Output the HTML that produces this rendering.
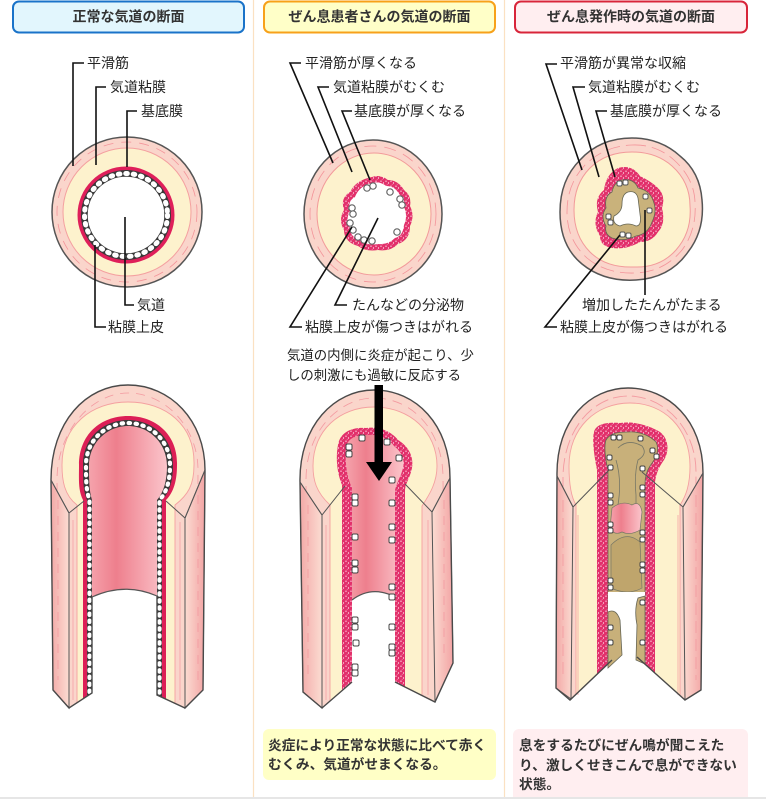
<!DOCTYPE html>
<html><head><meta charset="utf-8">
<style>
html,body{margin:0;padding:0;background:#fff;}
body{width:766px;height:799px;overflow:hidden;position:relative;}
svg{position:absolute;left:0;top:0;}
</style></head><body>
<svg width="766" height="799" viewBox="0 0 766 799" xmlns="http://www.w3.org/2000/svg" style='font-family:"Liberation Sans","Noto Sans CJK JP",sans-serif'>
<defs>
<pattern id="sp" width="5" height="5" patternUnits="userSpaceOnUse">
<rect width="5" height="5" fill="#e2306b"/>
<circle cx="1" cy="1.2" r="0.7" fill="#fbd0dc"/>
<circle cx="3.5" cy="3" r="0.6" fill="#fff"/>
<circle cx="2.2" cy="4.3" r="0.45" fill="#f8a8c0"/>
</pattern>
<linearGradient id="lum" x1="0" y1="0" x2="1" y2="0">
<stop offset="0" stop-color="#f5a3ac"/><stop offset="0.35" stop-color="#ee7f8d"/><stop offset="1" stop-color="#fbc5cb"/>
</linearGradient>
<linearGradient id="fL" x1="0" y1="0" x2="1" y2="0">
<stop offset="0" stop-color="#f3a9a7"/><stop offset="1" stop-color="#fbdcd2"/>
</linearGradient>
<linearGradient id="fR" x1="0" y1="0" x2="1" y2="0">
<stop offset="0" stop-color="#fbdcd2"/><stop offset="1" stop-color="#f3a4a4"/>
</linearGradient>
<clipPath id="c1"><path d="M51,480 C51,422 86,385 128,385 C170,385 205,420 205,470 L203,690 L185,708 L157,695 L157,596 Q125,582 92,597 L92,693 L69,708 L53,690 Z"/></clipPath>
<clipPath id="c2"><path d="M300,482 C299,425 335,390 374,390 C416,390 450,425 450,478 L453,663 L435,702 L395,682 L395,597 Q372,585 352,600 L352,682 L322,708 L303,692 Z"/></clipPath>
<clipPath id="c3"><path d="M557,476 C556,420 590,388 628,388 C668,388 703,420 703,473 L701,690 L685,700 L645,664 L645,592 L608,592 L608,664 L570,700 L556,688 Z"/></clipPath>
</defs>

<!-- separators -->
<line x1="253.5" y1="0" x2="253.5" y2="797" stroke="#fbe1c2" stroke-width="1.2"/>
<line x1="504.5" y1="0" x2="504.5" y2="797" stroke="#fbe1c2" stroke-width="1.2"/>

<!-- headers -->
<rect x="13" y="1.5" width="231" height="31" rx="6" fill="#e2f6fd" stroke="#1a73c9" stroke-width="2"/>
<text x="128.5" y="21.5" text-anchor="middle" font-size="14" font-weight="bold" fill="#333">正常な気道の断面</text>
<rect x="264" y="1.5" width="231" height="31" rx="6" fill="#ffffc8" stroke="#f7a11a" stroke-width="2"/>
<text x="379.5" y="21.5" text-anchor="middle" font-size="14" font-weight="bold" fill="#333">ぜん息患者さんの気道の断面</text>
<rect x="515" y="1.5" width="232" height="31" rx="6" fill="#ffeef0" stroke="#d8253a" stroke-width="2"/>
<text x="631" y="21.5" text-anchor="middle" font-size="14" font-weight="bold" fill="#333">ぜん息発作時の気道の断面</text>

<!-- ===== Circle 1 ===== -->
<circle cx="127" cy="212" r="75" fill="#fad5cb" stroke="#555" stroke-width="1.5"/>
<circle cx="127" cy="212" r="70" fill="none" stroke="#f3949a" stroke-width="0.8" stroke-dasharray="10 8"/>
<circle cx="127" cy="212" r="64" fill="#fdf2cd" stroke="#f4a0a0" stroke-width="1"/>
<circle cx="126" cy="215" r="48.5" fill="#df1f5a"/>
<circle cx="126" cy="215" r="45" fill="#3a3a3a"/>
<circle cx="126" cy="215" r="41.5" fill="none" stroke="#fff" stroke-width="5" stroke-linecap="round" stroke-dasharray="1.6 5.9"/>
<circle cx="126" cy="215" r="38.3" fill="#fff"/>

<!-- ===== Circle 2 ===== -->
<ellipse cx="373" cy="214" rx="69" ry="74" fill="#fad5cb" stroke="#555" stroke-width="1.5"/>
<ellipse cx="373" cy="214" rx="63" ry="68" fill="none" stroke="#f3949a" stroke-width="0.8" stroke-dasharray="12 8"/>
<ellipse cx="374" cy="214" rx="57" ry="61" fill="#fdf2cd" stroke="#f29a9a" stroke-width="1"/>
<path d="M372,177 Q380,174 388,180 Q398,180 404,190 Q412,196 410,206 Q415,216 410,226 Q410,240 398,244 Q390,252 378,250 Q366,252 358,246 Q344,242 344,230 Q338,220 344,210 Q340,198 350,192 Q356,180 372,177 Z" fill="url(#sp)"/>
<path d="M372,183 Q380,181 386,186 Q395,186 399,194 Q406,199 404,207 Q408,216 404,225 Q403,236 395,238 Q388,245 378,244 Q367,246 360,240 Q350,237 350,228 Q345,220 350,211 Q347,201 355,197 Q359,186 372,183 Z" fill="#fff"/>
<g fill="#fff" stroke="#666" stroke-width="1.2">
<circle cx="373" cy="186" r="3.2"/><circle cx="367" cy="188" r="3.2"/>
<circle cx="390" cy="192" r="3.2"/><circle cx="400" cy="199" r="3.2"/><circle cx="402" cy="205" r="3.2"/>
<circle cx="352" cy="208" r="3.2"/><circle cx="353" cy="214" r="3.2"/>
<circle cx="350" cy="223" r="3.2"/><circle cx="353" cy="230" r="3.2"/>
<circle cx="358" cy="237" r="3.2"/><circle cx="364" cy="240" r="3.2"/><circle cx="372" cy="241" r="3.2"/>
<circle cx="397" cy="232" r="3.2"/>
</g>

<!-- ===== Circle 3 ===== -->
<path d="M632,138 Q660,138 680,156 Q700,172 702,200 Q705,230 688,252 Q670,278 636,280 Q604,282 582,264 Q560,246 560,212 Q560,180 580,160 Q600,138 632,138 Z" fill="#fad5cb" stroke="#555" stroke-width="1.5"/>
<path d="M632,145 Q656,144 674,160 Q694,178 695,202 Q697,230 682,250 Q664,272 635,273 Q606,274 587,258 Q567,240 567,212 Q567,184 585,165 Q604,146 632,145 Z" fill="none" stroke="#f3949a" stroke-width="0.8" stroke-dasharray="14 6"/>
<path d="M632,152 Q656,152 672,166 Q690,182 690,206 Q692,232 676,250 Q660,268 634,267 Q606,268 590,252 Q574,236 574,210 Q574,184 590,168 Q606,152 632,152 Z" fill="#fdf2cd" stroke="#f29a9a" stroke-width="1"/>
<path d="M618,168 Q632,164 640,176 Q652,182 658,188 Q666,196 662,208 Q666,224 658,232 Q652,242 640,242 Q626,250 612,248 Q600,246 600,236 Q592,224 598,212 Q594,198 604,190 Q606,174 618,168 Z" fill="url(#sp)"/>
<path d="M622,180 Q634,178 638,188 Q648,190 652,198 Q658,210 652,222 Q648,234 636,236 Q624,242 612,238 Q604,234 606,226 Q600,216 606,208 Q604,196 612,192 Q614,182 622,180 Z" fill="#c9b27b" stroke="#665" stroke-width="0.8"/>
<path d="M628,192 Q636,190 638,198 L640,214 Q642,226 636,226 Q628,222 620,226 Q612,224 614,216 Q622,212 622,204 Q622,194 628,192 Z" fill="#fff" stroke="#665" stroke-width="0.8"/>
<g fill="#fff" stroke="#555" stroke-width="1">
<rect x="617" y="181" width="5" height="5" rx="1.5"/><rect x="623" y="180" width="5" height="5" rx="1.5"/>
<rect x="643" y="194" width="5" height="5" rx="1.5"/><rect x="647" y="208" width="5" height="5" rx="1.5"/>
<rect x="606" y="214" width="5" height="5" rx="1.5"/><rect x="608" y="220" width="5" height="5" rx="1.5"/>
<rect x="620" y="232" width="5" height="5" rx="1.5"/><rect x="626" y="233" width="5" height="5" rx="1.5"/>
</g>

<!-- ===== Leaders & labels ===== -->
<g fill="none" stroke="#111" stroke-width="1.6">
<path d="M84,63 H73 V166"/>
<path d="M106,87 H96 V165"/>
<path d="M137,111 H127 V167"/>
<path d="M125,217 V305 H134"/>
<path d="M95,245 V327 H106"/>
<path d="M301,63 H290 L333,163"/>
<path d="M329,87 H318 L352,172"/>
<path d="M352,111 H342 L370,180"/>
<path d="M378,218 L335,305 H347"/>
<path d="M352,227 L290,327 H302"/>
<path d="M557,64 H546 L582,170"/>
<path d="M585,87 H573 L599,177"/>
<path d="M607,111 H596 L615,177"/>
<path d="M645,210 V295"/>
<path d="M620,235 L545,327 H557"/>
</g>
<g font-size="14" fill="#222">
<text x="87" y="68">平滑筋</text>
<text x="110" y="92">気道粘膜</text>
<text x="141" y="116">基底膜</text>
<text x="137" y="310">気道</text>
<text x="108" y="332">粘膜上皮</text>
<text x="305" y="68">平滑筋が厚くなる</text>
<text x="333" y="92">気道粘膜がむくむ</text>
<text x="354" y="116">基底膜が厚くなる</text>
<text x="352" y="310">たんなどの分泌物</text>
<text x="305" y="332">粘膜上皮が傷つきはがれる</text>
<text x="560" y="68">平滑筋が異常な収縮</text>
<text x="588" y="92">気道粘膜がむくむ</text>
<text x="610" y="116">基底膜が厚くなる</text>
<text x="582" y="310">増加したたんがたまる</text>
<text x="560" y="332">粘膜上皮が傷つきはがれる</text>
</g>
<g font-size="13.4" fill="#222">
<text x="287" y="360">気道の内側に炎症が起こり、少</text>
<text x="287" y="380">しの刺激にも過敏に反応する</text>
</g>

<!-- ===== Tube 1 ===== -->
<g clip-path="url(#c1)">
<rect x="40" y="380" width="180" height="340" fill="#fad5cb"/>
<path d="M58,700 L57,478 C58,430 92,393 128,393 C166,393 198,428 198,470 L197,700" fill="none" stroke="#f39aa0" stroke-width="0.8" stroke-dasharray="9 7"/>
<path d="M77,720 L77,505 C64,495 62,480 62,465 C62,425 92,402 128,402 C166,402 195,425 194,465 C194,485 188,495 175,505 L175,720 Z" fill="#fdf2cd" stroke="#f4a0a0" stroke-width="0.9"/>
<path d="M83,720 L83,500 C78,490 79,480 79,465 C79,435 100,416 128,416 C156,416 178,435 177,465 C177,480 174,492 166,500 L166,720 Z" fill="#dc1f56"/>
<path d="M87,720 L87,500 C83,490 83,480 83,465 C83,438 103,420 128,420 C153,420 173,438 173,465 C173,480 170,492 162,500 L162,720 Z" fill="#3a3a3a"/>
<path d="M89.5,720 L89.5,500 C86,490 86,480 86,465 C86,441 105,423 128,423 C151,423 170,441 170,465 C170,480 167,492 159.5,500 L159.5,720" fill="none" stroke="#fff" stroke-width="4.2" stroke-linecap="round" stroke-dasharray="1.4 5.6"/>
<path d="M92,720 L92,500 C89,490 89,480 89,466 C89,443 107,426 128,426 C149,426 167,443 167,466 C167,480 164,492 157,500 L157,720 Z" fill="url(#lum)"/>
</g>
<path d="M51,480 L69,513 L69,708 L53,690 Z" fill="url(#fL)" stroke="#555" stroke-width="1"/>
<path d="M205,470 L185,518 L185,708 L203,690 Z" fill="url(#fR)" stroke="#555" stroke-width="1"/>
<path d="M58,500 V680 M198,495 V680" stroke="#f39aa0" stroke-width="0.8" stroke-dasharray="9 7" fill="none"/>
<path d="M73,520 V700 M180,522 V700" stroke="#f39aa0" stroke-width="0.7" fill="none"/>
<path d="M51,480 C51,422 86,385 128,385 C170,385 205,420 205,470 L203,690 L185,708 L157,695 L157,596 M92,597 L92,693 L69,708 L53,690 L51,480" fill="none" stroke="#4a4a4a" stroke-width="1.4"/>
<path d="M92,597 Q125,582 157,596" fill="none" stroke="#555" stroke-width="1.2"/>
<path d="M51,480 L69,513 L84,501 M205,470 L185,518 L166,501" fill="none" stroke="#555" stroke-width="1"/>

<!-- ===== Tube 2 ===== -->
<g clip-path="url(#c2)">
<rect x="290" y="385" width="170" height="330" fill="#fad5cb"/>
<path d="M307,700 L306,480 C306,430 340,398 374,398 C412,398 443,430 443,478 L445,700" fill="none" stroke="#f39aa0" stroke-width="0.8" stroke-dasharray="10 7"/>
<path d="M330,720 L330,505 C316,492 313,480 313,466 C313,430 340,407 374,407 C410,407 437,432 437,466 C437,482 430,494 422,506 L422,720 Z" fill="#fdf2cd" stroke="#f4a0a0" stroke-width="0.9"/>
<path d="M342,720 L342,485 C336,470 336,455 338,445 C340,432 352,427 366,428 C380,426 392,432 398,440 C408,446 414,456 412,468 C410,478 406,482 405,490 L405,720 Z" fill="url(#sp)"/>
<path d="M352,720 L352,488 C346,475 345,460 346,447 C348,438 356,435 368,435 C380,434 390,440 394,446 C402,452 405,460 403,468 C401,476 397,482 395,490 L395,720 Z" fill="url(#lum)"/>
</g>
<path d="M300,482 L322,515 L322,708 L303,692 Z" fill="url(#fL)" stroke="#555" stroke-width="1"/>
<path d="M450,478 L432,512 L435,702 L453,663 Z" fill="url(#fR)" stroke="#555" stroke-width="1"/>
<path d="M308,505 V680 M444,500 V660" stroke="#f39aa0" stroke-width="0.8" stroke-dasharray="9 7" fill="none"/>
<path d="M326,525 V700 M428,520 V695" stroke="#f39aa0" stroke-width="0.7" fill="none"/>
<path d="M300,482 C299,425 335,390 374,390 C416,390 450,425 450,478 L453,663 L435,702 L395,682 M352,682 L322,708 L303,692 L300,482" fill="none" stroke="#4a4a4a" stroke-width="1.4"/>
<path d="M352,600 Q372,585 395,597" fill="none" stroke="#555" stroke-width="1.2"/>
<path d="M300,482 L322,515 L345,486 M405,484 L432,512 L450,478" fill="none" stroke="#555" stroke-width="1"/>
<g fill="#fff" stroke="#444" stroke-width="1">
<rect x="352" y="494" width="6" height="6" rx="1.5"/><rect x="352" y="500" width="6" height="6" rx="1.5"/>
<rect x="352" y="534" width="6" height="6" rx="1.5"/><rect x="352" y="560" width="6" height="6" rx="1.5"/>
<rect x="352" y="567" width="6" height="6" rx="1.5"/><rect x="352" y="617" width="6" height="6" rx="1.5"/>
<rect x="352" y="624" width="6" height="6" rx="1.5"/><rect x="353" y="640" width="6" height="6" rx="1.5"/>
<rect x="352" y="664" width="6" height="6" rx="1.5"/><rect x="352" y="670" width="6" height="6" rx="1.5"/>
<rect x="389" y="477" width="6" height="6" rx="1.5"/><rect x="389" y="500" width="6" height="6" rx="1.5"/>
<rect x="389" y="524" width="6" height="6" rx="1.5"/><rect x="389" y="537" width="6" height="6" rx="1.5"/>
<rect x="389" y="584" width="6" height="6" rx="1.5"/><rect x="389" y="594" width="6" height="6" rx="1.5"/>
<rect x="389" y="624" width="6" height="6" rx="1.5"/><rect x="389" y="644" width="6" height="6" rx="1.5"/>
<rect x="389" y="650" width="6" height="6" rx="1.5"/>
<rect x="359" y="435" width="6" height="6" rx="1.5"/><rect x="384" y="439" width="6" height="6" rx="1.5"/>
<rect x="346" y="444" width="6" height="6" rx="1.5"/><rect x="346" y="451" width="6" height="6" rx="1.5"/>
<rect x="396" y="455" width="6" height="6" rx="1.5"/>
</g>
<!-- arrow -->
<rect x="374.5" y="385" width="8.5" height="79" fill="#000"/>
<path d="M366,462 L392,462 L379,481 Z" fill="#000"/>

<!-- ===== Tube 3 ===== -->
<g clip-path="url(#c3)">
<rect x="545" y="380" width="170" height="330" fill="#fad5cb"/>
<path d="M563,700 L563,476 C564,428 594,396 628,396 C664,396 696,428 696,472 L695,700" fill="none" stroke="#f39aa0" stroke-width="0.9" stroke-dasharray="14 5"/>
<path d="M576,720 L576,505 C570,495 569,480 569,466 C569,428 596,403 630,403 C664,403 690,428 690,466 C690,485 686,496 680,505 L680,720 Z" fill="#fdf2cd" stroke="#f4a0a0" stroke-width="0.9"/>
<path d="M597,720 L597,470 C594,455 592,440 594,432 C596,424 606,422 620,423 C636,421 650,426 660,432 C668,438 670,450 664,460 C658,468 656,475 655,482 L655,720 Z" fill="url(#sp)"/>
<path d="M608,720 L608,470 C605,458 604,446 606,440 C610,433 618,432 628,432 C640,431 650,436 656,442 C660,450 656,458 650,466 C646,472 645,478 645,484 L645,720 Z" fill="#c8b07a" stroke="#665" stroke-width="0.8"/>
<path d="M618,448 Q628,438 642,446 Q648,454 638,460 Q634,475 636,495 L636,505 M616,460 Q622,480 618,505" fill="none" stroke="#776" stroke-width="0.8"/>
<path d="M612,508 Q622,500 632,505 Q640,500 642,512 L640,530 Q630,536 622,532 Q614,536 610,528 Z" fill="url(#lum)" stroke="#776" stroke-width="0.7"/>
<path d="M611,545 Q626,530 640,542 L642,588 Q628,596 611,588 Z" fill="#bfa56c" stroke="#776" stroke-width="0.7"/>
</g>
<path d="M608,612 Q616,608 620,620 L622,655 L608,668 Z" fill="#c8b07a" stroke="#665" stroke-width="0.8"/>
<path d="M645,596 L638,598 Q634,610 637,625 L636,660 L645,664 Z" fill="#c8b07a" stroke="#665" stroke-width="0.8"/>
<path d="M557,476 L573,507 L571,699 L556,688 Z" fill="url(#fL)" stroke="#555" stroke-width="1"/>
<path d="M703,473 L683,507 L685,700 L701,690 Z" fill="url(#fR)" stroke="#555" stroke-width="1"/>
<path d="M563,500 V680 M696,495 V680" stroke="#f39aa0" stroke-width="0.8" stroke-dasharray="12 6" fill="none"/>
<path d="M578,515 V695 M678,515 V695" stroke="#f39aa0" stroke-width="0.7" fill="none"/>
<path d="M557,476 C556,420 590,388 628,388 C668,388 703,420 703,473 L701,690 L685,700 L637,657 M612,660 L570,700 L556,688 L557,476" fill="none" stroke="#4a4a4a" stroke-width="1.4"/>
<path d="M557,476 L573,507 L612,467 M642,472 L683,507 L703,473" fill="none" stroke="#555" stroke-width="1"/>
<g fill="#fff" stroke="#444" stroke-width="1">
<rect x="611" y="435" width="5" height="5" rx="1.5"/><rect x="617" y="435" width="5" height="5" rx="1.5"/>
<rect x="638" y="436" width="5" height="5" rx="1.5"/><rect x="650" y="448" width="5" height="5" rx="1.5"/>
<rect x="654" y="454" width="5" height="5" rx="1.5"/><rect x="607" y="455" width="5" height="5" rx="1.5"/>
<rect x="608" y="465" width="5" height="5" rx="1.5"/><rect x="640" y="466" width="5" height="5" rx="1.5"/>
<rect x="608" y="493" width="5" height="5" rx="1.5"/><rect x="608" y="500" width="5" height="5" rx="1.5"/>
<rect x="608" y="522" width="5" height="5" rx="1.5"/><rect x="608" y="528" width="5" height="5" rx="1.5"/>
<rect x="608" y="578" width="5" height="5" rx="1.5"/><rect x="608" y="585" width="5" height="5" rx="1.5"/>
<rect x="608" y="625" width="5" height="5" rx="1.5"/><rect x="608" y="640" width="5" height="5" rx="1.5"/>
<rect x="640" y="485" width="5" height="5" rx="1.5"/><rect x="640" y="492" width="5" height="5" rx="1.5"/>
<rect x="640" y="530" width="5" height="5" rx="1.5"/><rect x="640" y="537" width="5" height="5" rx="1.5"/>
<rect x="640" y="562" width="5" height="5" rx="1.5"/><rect x="640" y="568" width="5" height="5" rx="1.5"/>
<rect x="640" y="600" width="5" height="5" rx="1.5"/><rect x="640" y="640" width="5" height="5" rx="1.5"/>
</g>

<!-- ===== bottom boxes ===== -->
<rect x="263" y="729" width="233" height="51" rx="6" fill="#ffffc6"/>
<g font-size="13.7" font-weight="bold" fill="#333">
<text x="268" y="750">炎症により正常な状態に比べて赤く</text>
<text x="268" y="769">むくみ、気道がせまくなる。</text>
</g>
<rect x="513" y="729" width="235" height="80" rx="6" fill="#ffeef0"/>
<g font-size="13.7" font-weight="bold" fill="#333">
<text x="519" y="750">息をするたびにぜん鳴が聞こえた</text>
<text x="519" y="770">り、激しくせきこんで息ができない</text>
<text x="519" y="789">状態。</text>
</g>
<rect x="0" y="797" width="766" height="2" fill="#e6e6e6"/>
</svg>
</body></html>
